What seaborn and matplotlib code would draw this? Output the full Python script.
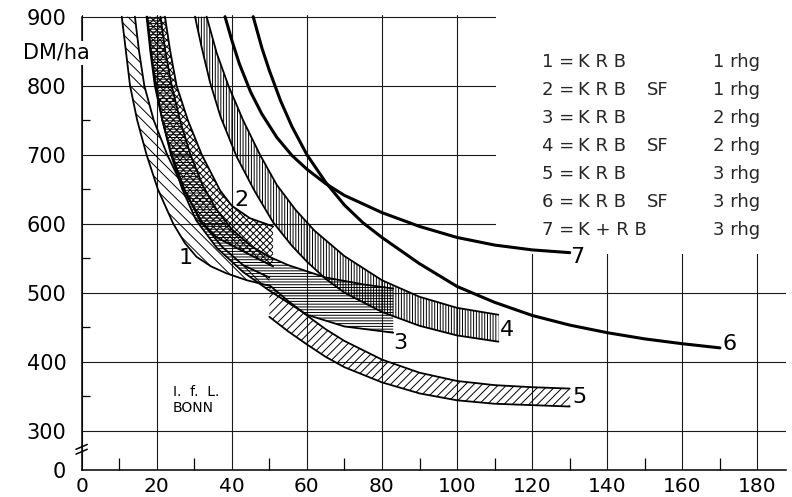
import numpy as np
import matplotlib
matplotlib.use("Agg")
import matplotlib.pyplot as plt
import seaborn as sns
from matplotlib.patches import Rectangle

sns.set_theme(style="white")
plt.rcParams['font.family'] = ['DejaVu Sans']
plt.rcParams['hatch.linewidth'] = 0.7
plt.rcParams['hatch.color'] = 'black'

# ---------------- data ----------------
x_ticks = [0, 20, 40, 60, 80, 100, 120, 140, 160, 180]
y_ticks = [300, 400, 500, 600, 700, 800, 900]
y_zero = 243          # virtual position of the "0" below the axis break

# band 1 = KRB 1 rhg
b1_lo_x = [10.7, 11.8, 12.9, 14.8, 17.3, 20.3, 24.4, 27.5, 30.6, 34.5, 38.6, 44.0, 50.0]
b1_lo_y = [900, 850, 800, 750, 700, 650, 600, 572, 552, 538, 528, 518, 510]
b1_up_x = [14.2, 15.3, 16.7, 19.2, 22.8, 27.2, 32.3, 37.5, 43.0, 50.0]
b1_up_y = [900, 850, 800, 750, 700, 650, 600, 566, 540, 522]
# band 2 = KRB SF 1 rhg
b2_lo_x = [17.3, 18.3, 19.5, 21.5, 24.0, 27.5, 31.5, 36.0, 43.0, 51.0]
b2_lo_y = [900, 850, 800, 750, 700, 648, 605, 580, 560, 538]
b2_up_x = [22.2, 23.6, 25.3, 28.3, 32.0, 36.9, 40.0, 44.8, 51.0]
b2_up_y = [900, 850, 800, 750, 700, 648, 626, 608, 596]
# band 3 = KRB 2 rhg
b3_lo_x = [17.5, 18.5, 19.8, 21.5, 23.8, 26.8, 30.5, 36.0, 43.0, 50.0, 60.0, 70.0, 83.0]
b3_lo_y = [900, 850, 800, 750, 700, 650, 605, 565, 530, 503, 468, 451, 442]
b3_up_x = [21.0, 22.3, 24.0, 26.2, 29.0, 32.3, 36.0, 40.0, 45.0, 50.0, 55.0, 65.0, 75.0, 83.0]
b3_up_y = [900, 850, 800, 750, 700, 655, 620, 592, 568, 552, 540, 522, 512, 506]
# band 4 = KRB SF 2 rhg
b4_lo_x = [30.2, 32.0, 34.2, 37.0, 41.3, 46.0, 51.0, 56.0, 60.0, 65.0, 70.0, 80.0, 90.0, 100.0, 111.0]
b4_lo_y = [900, 855, 805, 755, 697, 648, 602, 568, 545, 520, 500, 472, 452, 438, 429]
b4_up_x = [33.3, 36.0, 39.1, 43.0, 47.5, 52.0, 57.0, 62.0, 70.0, 80.0, 90.0, 100.0, 111.0]
b4_up_y = [900, 847, 800, 750, 700, 656, 620, 590, 553, 518, 494, 478, 468]
# band 5 = KRB 3 rhg
b5_x = [50, 55, 60, 65, 70, 80, 90, 100, 110, 120, 130]
b5_lo_y = [465, 444, 425, 407, 392, 370, 354, 344, 339, 337, 335]
b5_up_y = [511, 488, 467, 447, 430, 403, 384, 372, 366, 363, 361]
# line 6 = KRB SF 3 rhg
l6_x = [45.7, 48, 50, 53, 56, 60, 65, 70, 75, 80, 90, 100, 110, 120, 130, 140, 150, 160, 170]
l6_y = [900, 855, 822, 778, 741, 700, 660, 627, 601, 580, 542, 509, 486, 467, 453, 442, 433, 426, 420]
# line 7 = K + RB 3 rhg
l7_x = [38.2, 40, 42, 45, 48, 52, 56, 60, 65, 70, 80, 90, 100, 110, 120, 130]
l7_y = [900, 866, 832, 791, 759, 725, 699, 679, 658, 641, 616, 596, 580, 569, 562, 558]

curve_labels = ["1", "2", "3", "4", "5", "6", "7"]
label_x = [27.7, 42.7, 85.0, 113.3, 132.7, 172.7, 131.9]
label_y = [550, 635, 427, 446, 349, 425, 552]

legend_nums = ["1 =", "2 =", "3 =", "4 =", "5 =", "6 =", "7 ="]
legend_mach = ["K R B", "K R B", "K R B", "K R B", "K R B", "K R B", "K + R B"]
legend_sf = ["", "SF", "", "SF", "", "SF", ""]
legend_rhg = ["1 rhg", "1 rhg", "2 rhg", "2 rhg", "3 rhg", "3 rhg", "3 rhg"]

# ---------------- figure ----------------
W, H = 792, 497
fig = plt.figure(figsize=(W / 100, H / 100), dpi=100)
ax = fig.add_axes([81.6 / W, 1 - 470 / H, 704 / W, 455.4 / H])
ax.set_xlim(0, 187.5)
ax.set_ylim(y_zero, 903)

ax.set_xticks(x_ticks)
ax.set_xticklabels([str(v) for v in x_ticks])
ax.set_yticks([y_zero] + y_ticks)
ax.set_yticklabels(["0"] + [str(v) for v in y_ticks])
ax.set_xticks(np.arange(10, 180, 20), minor=True)
ax.set_yticks(np.arange(350, 900, 100), minor=True)
ax.tick_params(axis='both', which='major', length=0, labelsize=15, colors='black')
ax.tick_params(axis='x', which='major', pad=5, labelsize=14.5)
ax.tick_params(axis='y', which='major', pad=11)
ax.tick_params(axis='x', which='minor', direction='in', length=8.5, width=0.9,
               bottom=True, color='black')
ax.tick_params(axis='y', which='minor', direction='in', length=6, width=0.9,
               left=True, color='black')

ax.grid(True, which='major', color='#1a1a1a', linewidth=0.8)
ax.set_axisbelow(True)
for s in ['top', 'right']:
    ax.spines[s].set_visible(False)
for s in ['left', 'bottom']:
    ax.spines[s].set_color('black')
    ax.spines[s].set_linewidth(1.1)
ax.spines['left'].set_bounds(y_zero, 900)

# white area behind the legend (grid is blanked there)
ax.add_patch(Rectangle((110.5, 556), 80, 360, facecolor='white',
                       edgecolor='none', zorder=1))

def band(xl, yl, xu, yu, hatch):
    px = list(xl) + list(xu)[::-1]
    py = list(yl) + list(yu)[::-1]
    ax.fill(px, py, facecolor='none', edgecolor='black', hatch=hatch,
            linewidth=0, zorder=2)
    sns.lineplot(x=xl, y=yl, ax=ax, color='black', linewidth=1.3,
                 sort=False, estimator=None, zorder=3)
    sns.lineplot(x=xu, y=yu, ax=ax, color='black', linewidth=1.3,
                 sort=False, estimator=None, zorder=3)

band(b1_lo_x, b1_lo_y, b1_up_x, b1_up_y, '\\\\\\')
band(b3_lo_x, b3_lo_y, b3_up_x, b3_up_y, '------')
band(b2_lo_x, b2_lo_y, b2_up_x, b2_up_y, 'xxxxx')
band(b4_lo_x, b4_lo_y, b4_up_x, b4_up_y, '||||||')
band(b5_x, b5_lo_y, b5_x, b5_up_y, '////')

sns.lineplot(x=l6_x, y=l6_y, ax=ax, color='black', linewidth=2.2,
             sort=False, estimator=None, zorder=4)
sns.lineplot(x=l7_x, y=l7_y, ax=ax, color='black', linewidth=2.2,
             sort=False, estimator=None, zorder=4)

for t, lx, ly in zip(curve_labels, label_x, label_y):
    ax.text(lx, ly, t, fontsize=16, ha='center', va='center', color='black', zorder=5)

ax.text(24.3, 356, "I.  f.  L.", fontsize=10, ha='left', va='center', color='black')
ax.text(24.3, 333, "BONN", fontsize=10, ha='left', va='center', color='black')

# axis break mark
tr = ax.get_yaxis_transform()
for yb in (266, 273):
    ax.plot([-0.008, 0.008], [yb, yb + 7], transform=tr, color='black',
            linewidth=1.1, clip_on=False, zorder=6)

# y unit label
fig.text(23 / W, 1 - 53 / H, "DM/ha", fontsize=15, ha='left', va='center',
         color='black', bbox=dict(facecolor='white', edgecolor='none', pad=1.5))

# legend text
for i in range(len(legend_nums)):
    yy = 1 - (61.7 + 28.05 * i) / H
    fig.text(541.7 / W, yy, legend_nums[i], fontsize=13, ha='left', va='center')
    fig.text(578 / W, yy, legend_mach[i], fontsize=13, ha='left', va='center')
    if legend_sf[i]:
        fig.text(647 / W, yy, legend_sf[i], fontsize=13, ha='left', va='center')
    fig.text(713 / W, yy, legend_rhg[i], fontsize=13, ha='left', va='center')

fig.savefig("out.png", dpi=100, facecolor='white')
